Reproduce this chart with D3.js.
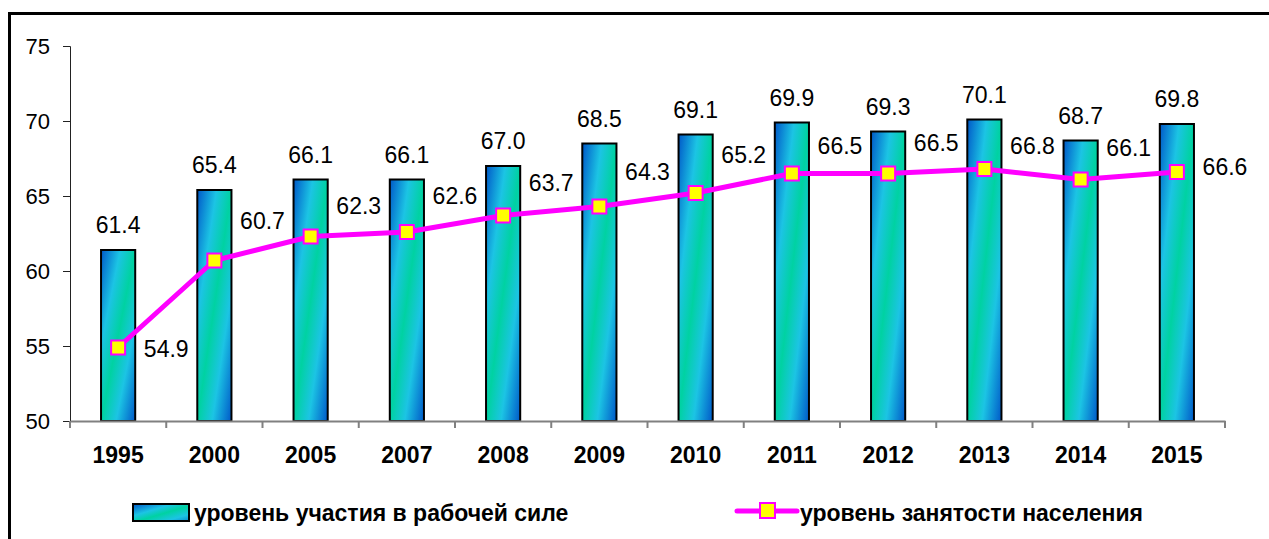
<!DOCTYPE html>
<html><head><meta charset="utf-8">
<script src="https://cdn.jsdelivr.net/npm/d3@7"></script>
<style>
html,body{margin:0;padding:0;background:#fff;}
svg{display:block;font-family:"Liberation Sans",Arial,sans-serif;}
</style></head>
<body>
<svg id="chart" width="1269" height="539"></svg>
<script>
const categories = ["1995","2000","2005","2007","2008","2009","2010","2011","2012","2013","2014","2015"];
const participation = [61.4,65.4,66.1,66.1,67.0,68.5,69.1,69.9,69.3,70.1,68.7,69.8];
const employment = [54.9,60.7,62.3,62.6,63.7,64.3,65.2,66.5,66.5,66.8,66.1,66.6];
const yTicks = [50,55,60,65,70,75];
const seriesNames = ["уровень участия в рабочей силе","уровень занятости населения"];

const svg = d3.select("#chart");
const plot = {left:70, right:1225, top:46, bottom:421};

// gradient
const defs = svg.append("defs");
const g1 = defs.append("linearGradient").attr("id","barGrad")
  .attr("x1","0").attr("y1","0").attr("x2","1").attr("y2","1");
[[0,"#0058c8"],[0.28,"#1cc4e4"],[0.5,"#00d2a2"],[0.72,"#1cc4e4"],[1,"#0058c8"]]
  .forEach(([o,c])=>g1.append("stop").attr("offset",o).attr("stop-color",c));
const g2 = defs.append("linearGradient").attr("id","legGrad")
  .attr("x1","0").attr("y1","0").attr("x2","1").attr("y2","1");
[[0,"#0058c8"],[0.35,"#1cc4e4"],[0.55,"#00d2a2"],[0.8,"#1cc4e4"],[1,"#0a8ad0"]]
  .forEach(([o,c])=>g2.append("stop").attr("offset",o).attr("stop-color",c));

// frame
svg.append("rect").attr("x",9.5).attr("y",13.5).attr("width",1300).attr("height",600)
  .attr("fill","none").attr("stroke","#000").attr("stroke-width",3);

const x = d3.scaleBand().domain(categories).range([plot.left,plot.right]).paddingInner(0).paddingOuter(0);
const y = d3.scaleLinear().domain([50,75]).range([plot.bottom,plot.top]);
const barW = x.bandwidth()*0.355;

// y axis
const yAxis = svg.append("g").attr("transform",`translate(${plot.left},0)`)
  .call(d3.axisLeft(y).tickValues(yTicks).tickSize(7).tickPadding(13).tickFormat(d3.format("d")));
yAxis.select(".domain").attr("stroke","#222").attr("stroke-width",1);
yAxis.selectAll(".tick line").attr("stroke","#222");
yAxis.selectAll("text").attr("font-size",22).attr("fill","#000").style("font-family","Liberation Sans, Arial, sans-serif");

// bars
svg.append("g").selectAll("rect").data(categories).join("rect")
  .attr("x",d=>x(d)+x.bandwidth()/2-barW/2)
  .attr("y",(d,i)=>y(participation[i]))
  .attr("width",barW)
  .attr("height",(d,i)=>y(50)-y(participation[i]))
  .attr("fill","url(#barGrad)").attr("stroke","#000").attr("stroke-width",2);

// x axis
const xAxis = svg.append("g").attr("transform",`translate(0,${plot.bottom})`)
  .call(d3.axisBottom(x).tickSize(0).tickPadding(0).tickFormat(""));
xAxis.select(".domain").attr("stroke","#808080").attr("stroke-width",2);
xAxis.selectAll(".tick").remove();
const bounds = categories.map(c=>x(c)).concat([plot.right]);
svg.append("g").selectAll("line").data(bounds).join("line")
  .attr("x1",d=>d).attr("x2",d=>d).attr("y1",plot.bottom).attr("y2",plot.bottom+7)
  .attr("stroke","#808080").attr("stroke-width",2);
svg.append("g").selectAll("text").data(categories).join("text")
  .attr("x",d=>x(d)+x.bandwidth()/2).attr("y",plot.bottom+42)
  .attr("text-anchor","middle").attr("font-size",23).attr("font-weight","bold").text(d=>d);

// bar value labels
svg.append("g").selectAll("text").data(categories).join("text")
  .attr("x",d=>x(d)+x.bandwidth()/2).attr("y",(d,i)=>y(participation[i])-17)
  .attr("text-anchor","middle").attr("font-size",23).text((d,i)=>participation[i].toFixed(1));

// line
const cx = d=>x(d)+x.bandwidth()/2;
const line = d3.line().x((d,i)=>cx(categories[i])).y(d=>y(d));
svg.append("path").datum(employment).attr("d",line)
  .attr("fill","none").attr("stroke","#ff00ff").attr("stroke-width",5).attr("stroke-linejoin","round");
svg.append("g").selectAll("rect").data(employment).join("rect")
  .attr("x",(d,i)=>cx(categories[i])-7).attr("y",d=>y(d)-7)
  .attr("width",14).attr("height",14)
  .attr("fill","#ffff00").attr("stroke","#ff00ff").attr("stroke-width",2);

// line labels: at the right of each point, lifted above the segment to the next point
const n = employment.length;
svg.append("g").selectAll("text").data(employment).join("text")
  .attr("x",(d,i)=>cx(categories[i])+x.bandwidth()/2)
  .attr("y",(d,i)=>{
    if(i===0) return y(d)+9;
    if(i===n-1) return y(d)+3;
    const mid = (y(d)+y(employment[i+1]))/2;
    return mid-20;
  })
  .attr("text-anchor","middle").attr("font-size",23).text(d=>d.toFixed(1));

// legend
const leg = svg.append("g");
leg.append("rect").attr("x",133).attr("y",504).attr("width",56).attr("height",17)
  .attr("fill","url(#legGrad)").attr("stroke","#000").attr("stroke-width",2);
leg.append("text").attr("x",194).attr("y",521).attr("font-size",23).attr("font-weight","bold").text(seriesNames[0]);
leg.append("line").attr("x1",737).attr("x2",797).attr("y1",511).attr("y2",511)
  .attr("stroke","#ff00ff").attr("stroke-width",5).attr("stroke-linecap","round");
leg.append("rect").attr("x",760).attr("y",503).attr("width",15).attr("height",15)
  .attr("fill","#ffff00").attr("stroke","#ff00ff").attr("stroke-width",2);
leg.append("text").attr("x",800).attr("y",521).attr("font-size",23).attr("font-weight","bold").text(seriesNames[1]);
</script>
</body></html>
